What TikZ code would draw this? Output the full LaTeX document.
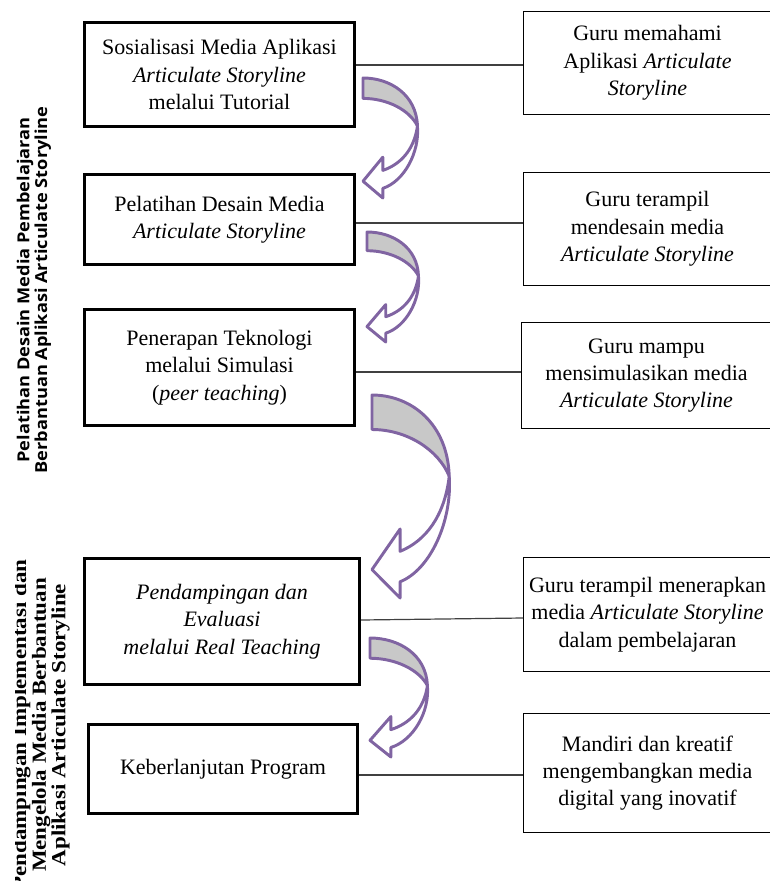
\documentclass[tikz,border=0pt]{standalone}
\usepackage{fontspec}
\setmainfont{Liberation Serif}
\newfontfamily\phasesans[FakeStretch=1.1]{Open Sans}
\newfontfamily\phaseserif[FakeStretch=1.15]{Liberation Serif}
\definecolor{arrowpurple}{HTML}{8064A2}
\definecolor{facegray}{HTML}{C8C8C8}

\begin{document}
\begin{tikzpicture}[
  x=0.75pt, y=-0.75pt,
  stepbox/.style = {draw, line width=2.3pt, inner sep=2pt, align=center, font=\fontsize{16.5}{20.5}\selectfont},
  goalbox/.style = {draw, line width=0.9pt, inner sep=2pt, align=center, font=\fontsize{16.5}{20.5}\selectfont},
  link/.style    = {draw=black!75, line width=0.9pt},
  phaseA/.style  = {rotate=90, align=center, inner sep=0pt, font=\phasesans\bfseries\fontsize{12.4}{10.8}\selectfont},
  phaseB/.style  = {rotate=90, align=center, inner sep=0pt, font=\phaseserif\bfseries\fontsize{15}{13.5}\selectfont},
  turnarrow/.pic = {
    \path[draw=arrowpurple, fill=facegray, line width=2.2pt, line join=round]
      (0,0) .. controls (0.5,0) and (0.97,0.14) .. (0.99,0.4)
      .. controls (0.85,0.27) and (0.45,0.17) .. (0,0.17) -- cycle;
    \path[draw=arrowpurple, fill=white, line width=2.2pt, line join=round]
      (0.99,0.4) .. controls (1.03,0.62) and (0.75,0.86) .. (0.36,0.92)
      -- (0.36,1) -- (0,0.86) -- (0.36,0.66) -- (0.36,0.77)
      .. controls (0.68,0.72) and (0.93,0.6) .. (0.99,0.4) -- cycle;
  }
]
  \useasboundingbox (0,0) rectangle (770,881);

  % phase labels on the left
  \node[phaseA] (phase1) at (34,290)
    {Pelatihan Desain Media Pembelajaran\\Berbantuan Aplikasi Articulate Storyline};
  \begin{scope}
    \clip (15,540) rectangle (90,881);
    \node[phaseB] (phase2) at (41,725)
      {Pendampingan Implementasi dan\\Mengelola Media Berbantuan\\Aplikasi Articulate Storyline};
  \end{scope}

  % activity boxes
  \node[stepbox, minimum width=202.5pt, minimum height=78pt] (b1) at (219.5,74.5)
    {Sosialisasi Media Aplikasi\\\textit{Articulate Storyline}\\melalui Tutorial};
  \node[stepbox, minimum width=202.5pt, minimum height=67.5pt] (b2) at (219.5,219.5)
    {Pelatihan Desain Media\\\textit{Articulate Storyline}};
  \node[stepbox, minimum width=202.5pt, minimum height=87pt] (b3) at (219.5,367.5)
    {Penerapan Teknologi\\melalui Simulasi\\(\textit{peer teaching})};
  \node[stepbox, minimum width=206.25pt, minimum height=94.5pt] (b4) at (222,621.5)
    {\textit{Pendampingan dan}\\\textit{Evaluasi}\\\textit{melalui Real Teaching}};
  \node[stepbox, minimum width=201.75pt, minimum height=66.75pt] (b5) at (223,769)
    {Keberlanjutan Program};

  % outcome boxes
  \node[goalbox, minimum width=185.85pt, minimum height=77.1pt] (r1) at (647.5,63)
    {Guru memahami\\Aplikasi \textit{Articulate}\\\textit{Storyline}};
  \node[goalbox, minimum width=185.85pt, minimum height=84.6pt] (r2) at (647.5,229)
    {Guru terampil\\mendesain media\\\textit{Articulate Storyline}};
  \node[goalbox, minimum width=187.35pt, minimum height=79.35pt] (r3) at (646.5,375.5)
    {Guru mampu\\mensimulasikan media\\\textit{Articulate Storyline}};
  \node[goalbox, minimum width=185.85pt, minimum height=85.35pt] (r4) at (647.5,614.5)
    {Guru terampil menerapkan\\media \textit{Articulate Storyline}\\dalam pembelajaran};
  \node[goalbox, minimum width=185.85pt, minimum height=89.1pt] (r5) at (647.5,773)
    {Mandiri dan kreatif\\mengembangkan media\\digital yang inovatif};

  % connectors
  \draw[link] (b1.east |- 0,65) -- (r1.west |- 0,65);
  \draw[link] (b2.east |- 0,223) -- (r2.west |- 0,223);
  \draw[link] (b3.east |- 0,372) -- (r3.west |- 0,372);
  \draw[link] (b4.east |- 0,620) -- (r4.west |- 0,618);
  \draw[link] (b5.east |- 0,775) -- (r5.west |- 0,775);

  % curved arrows between the steps
  \pic[xscale=55, yscale=120] (turn1) at (363,78) {turnarrow};
  \pic[xscale=52, yscale=110] (turn2) at (367,232) {turnarrow};
  \pic[xscale=78, yscale=203] (turn3) at (372,395) {turnarrow};
  \pic[xscale=58, yscale=119] (turn4) at (370,638) {turnarrow};

\end{tikzpicture}
\end{document}
